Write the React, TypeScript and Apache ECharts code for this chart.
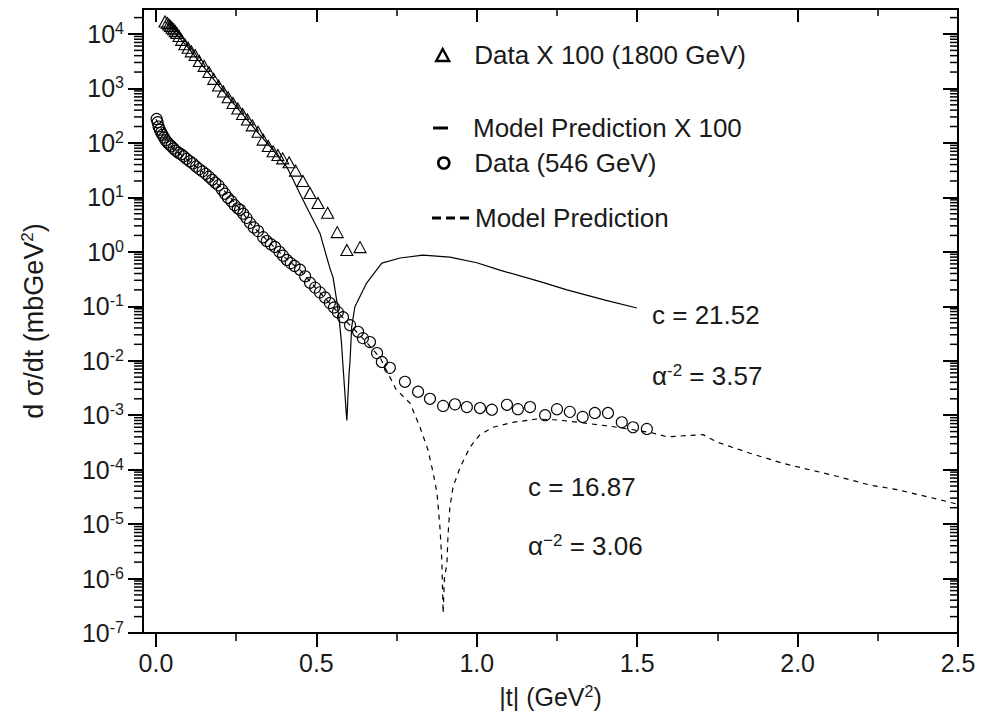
import React, { useEffect, useRef } from 'react';
import * as echarts from 'echarts';

// ---- Data ----
// 1800 GeV data x 100 (triangles)
const triX = [0.028, 0.035, 0.040, 0.045, 0.050, 0.055, 0.060, 0.065, 0.072, 0.080, 0.090, 0.100, 0.110, 0.122, 0.135, 0.150, 0.165, 0.180, 0.195, 0.210, 0.225, 0.240, 0.255, 0.270, 0.285, 0.300, 0.318, 0.334, 0.350, 0.365, 0.380, 0.395, 0.415, 0.435, 0.458, 0.480, 0.505, 0.535, 0.565, 0.595, 0.636];
const triY = [17000, 16000, 15000, 14000, 13000, 12200, 11300, 10400, 9200, 7800, 6500, 5600, 4800, 4100, 3200, 2600, 2000, 1500, 1130, 880, 690, 540, 430, 340, 270, 210, 160, 115, 88, 70, 60, 52, 44, 31, 20, 12, 7.9, 5.2, 2.3, 1.08, 1.22];

// Model prediction x 100 (solid line)
const modelHiX = [0.028, 0.10, 0.20, 0.30, 0.36, 0.408, 0.458, 0.511, 0.542, 0.552, 0.564, 0.572, 0.578, 0.583, 0.588, 0.593, 0.595, 0.598, 0.602, 0.605, 0.610, 0.620, 0.657, 0.704, 0.761, 0.832, 0.916, 1.000, 1.072, 1.200, 1.281, 1.400, 1.499];
const modelHiY = [17000, 5600, 1050, 205, 80, 36, 9, 2.2, 0.5, 0.34, 0.12, 0.05, 0.022, 0.008, 0.003, 0.0011, 0.0008, 0.002, 0.006, 0.0102, 0.042, 0.098, 0.27, 0.62, 0.77, 0.87, 0.80, 0.63, 0.46, 0.28, 0.2, 0.13, 0.093];

// 546 GeV data (circles)
const circX = [0.002, 0.005, 0.008, 0.012, 0.016, 0.020, 0.025, 0.030, 0.036, 0.042, 0.048, 0.055, 0.062, 0.070, 0.078, 0.086, 0.095, 0.105, 0.115, 0.125, 0.135, 0.145, 0.155, 0.165, 0.175, 0.185, 0.195, 0.206, 0.215, 0.224, 0.235, 0.245, 0.255, 0.262, 0.272, 0.282, 0.293, 0.305, 0.318, 0.334, 0.345, 0.358, 0.371, 0.385, 0.396, 0.408, 0.420, 0.432, 0.449, 0.465, 0.480, 0.496, 0.511, 0.527, 0.542, 0.555, 0.567, 0.583, 0.605, 0.630, 0.645, 0.667, 0.689, 0.704, 0.729, 0.776, 0.817, 0.854, 0.895, 0.932, 0.969, 1.010, 1.047, 1.094, 1.128, 1.166, 1.213, 1.250, 1.290, 1.330, 1.368, 1.409, 1.452, 1.487, 1.530];
const circY = [275, 240, 200, 175, 155, 141, 126, 112, 102, 93, 87, 79, 72, 66, 62, 57, 51, 46, 42, 37, 33, 30, 27, 24, 21, 18.6, 16.6, 13.8, 11.7, 9.8, 8.5, 7.2, 6.3, 5.9, 5.0, 4.2, 3.4, 2.8, 2.4, 1.86, 1.58, 1.38, 1.23, 1.0, 0.85, 0.71, 0.62, 0.55, 0.47, 0.355, 0.27, 0.22, 0.18, 0.145, 0.115, 0.095, 0.078, 0.063, 0.045, 0.034, 0.026, 0.022, 0.0138, 0.0095, 0.0074, 0.0041, 0.0027, 0.0020, 0.00148, 0.00158, 0.00141, 0.00135, 0.00126, 0.00155, 0.00129, 0.00141, 0.00100, 0.00129, 0.00115, 0.00093, 0.0011, 0.0011, 0.00074, 0.0006, 0.00056];

// Model prediction (dashed line)
const modelLoX = [0.0, 0.05, 0.1, 0.15, 0.2, 0.25, 0.3, 0.35, 0.4, 0.45, 0.5, 0.55, 0.6, 0.65, 0.7, 0.748, 0.792, 0.823, 0.848, 0.864, 0.876, 0.885, 0.891, 0.895, 0.899, 0.907, 0.910, 0.916, 0.926, 0.948, 0.979, 1.010, 1.050, 1.113, 1.188, 1.260, 1.350, 1.420, 1.487, 1.549, 1.593, 1.650, 1.705, 1.749, 1.852, 1.955, 2.110, 2.226, 2.310, 2.466, 2.500];
const modelLoY = [270, 82, 48, 28, 16, 7.5, 3.0, 1.55, 0.80, 0.46, 0.21, 0.10, 0.048, 0.024, 0.011, 0.003, 0.00166, 0.0006, 0.00023, 0.000087, 0.000037, 0.0000089, 0.0000022, 0.00000023, 0.000001, 0.0000019, 0.0000058, 0.00002, 0.000048, 0.00011, 0.00026, 0.00044, 0.0006, 0.00074, 0.00085, 0.00081, 0.0007, 0.00062, 0.00054, 0.00047, 0.0004, 0.00042, 0.00044, 0.00032, 0.0002, 0.00013, 0.000079, 0.000052, 0.000043, 0.000026, 0.000023];

// Axis ticks
const yExponents = [-7, -6, -5, -4, -3, -2, -1, 0, 1, 2, 3, 4];
const xMajorTicks = [0, 0.5, 1.0, 1.5, 2.0, 2.5];
const xMinorTicks = [0.25, 0.75, 1.25, 1.75, 2.25];

const seriesNames = ['Data X 100 (1800 GeV)', 'Model Prediction X 100', 'Data (546 GeV)', 'Model Prediction'];

const FONT = "'Liberation Sans', Arial, Helvetica, sans-serif";
const TXT = '#1a1a1a';

const toLog = (xs: number[], ys: number[]) => xs.map((x, i) => [x, Math.log10(ys[i])]);

const supStyle = (base: number, sup: number, key: 'color' | 'fill') => ({
  a: { fontSize: base, fontFamily: FONT, [key]: TXT, lineHeight: base + 2 },
  b: { fontSize: base, fontFamily: FONT, [key]: TXT, lineHeight: base + 2 },
  s: { fontSize: sup, fontFamily: FONT, [key]: TXT, verticalAlign: 'top', lineHeight: sup - 1 },
});

export default function App() {
  const ref = useRef<HTMLDivElement>(null);
  useEffect(() => {
    if (!ref.current) return;
    const chart = echarts.init(ref.current, undefined, { renderer: 'svg' });

    const X_MIN = -0.0405;
    const X_MAX = 2.5;
    const Y_MIN = -7;
    const Y_MAX = 4.459;

    // log-minor tick positions (2..9 x 10^n) — axis decoration only
    const minorLogs: number[][] = [];
    for (let n = -7; n <= 4; n++) {
      for (let k = 2; k <= 9; k++) {
        const v = n + Math.log10(k);
        if (v < Y_MAX) minorLogs.push([0, v]);
      }
    }

    const xBase = {
      type: 'value', min: X_MIN, max: X_MAX, gridIndex: 0,
      splitLine: { show: false },
    };

    const legendText = (padLeft: number) => ({ fontSize: 26, fontFamily: FONT, color: TXT, padding: [0, 0, 0, padLeft] });

    const option: any = {
      animation: false,
      grid: { left: 143, right: 26, top: 9, bottom: 90, containLabel: false },
      xAxis: [
        {
          ...xBase, position: 'bottom',
          axisLine: { show: true, onZero: false, lineStyle: { color: '#000', width: 2 } },
          axisTick: { show: true, inside: false, length: 14, customValues: xMajorTicks, lineStyle: { color: '#000', width: 2 } },
          axisLabel: { show: true, customValues: xMajorTicks, formatter: (v: number) => v.toFixed(1), fontSize: 25, fontFamily: FONT, color: TXT, margin: 17 },
          name: '{a||t| (GeV}{s|2}{a|)}',
          nameLocation: 'middle', nameGap: 50,
          nameTextStyle: { rich: supStyle(25, 16, 'color') },
        },
        {
          ...xBase, position: 'bottom',
          axisLine: { show: false, onZero: false },
          axisTick: { show: true, inside: false, length: 8, customValues: xMinorTicks, lineStyle: { color: '#000', width: 1.5 } },
          axisLabel: { show: false },
        },
        {
          ...xBase, position: 'top',
          axisLine: { show: true, onZero: false, lineStyle: { color: '#000', width: 2 } },
          axisTick: { show: true, inside: true, length: 13, customValues: xMajorTicks, lineStyle: { color: '#000', width: 2 } },
          axisLabel: { show: false },
        },
        {
          ...xBase, position: 'top',
          axisLine: { show: false, onZero: false },
          axisTick: { show: true, inside: true, length: 7, customValues: xMinorTicks, lineStyle: { color: '#000', width: 1.5 } },
          axisLabel: { show: false },
        },
      ],
      yAxis: [
        {
          type: 'value', min: Y_MIN, max: Y_MAX, interval: 1, position: 'left',
          splitLine: { show: false },
          axisLine: { show: true, onZero: false, lineStyle: { color: '#000', width: 2 } },
          axisTick: { show: true, inside: false, length: 15, customValues: yExponents, lineStyle: { color: '#000', width: 2 } },
          axisLabel: {
            show: true, customValues: yExponents, margin: 19,
            formatter: (v: number) => `{b|10}{s|${Math.round(v)}}`,
            rich: supStyle(25, 16, 'color'),
          },
          name: '{a|d σ/dt (mbGeV}{s|2}{a|)}',
          nameLocation: 'middle', nameGap: 95,
          nameTextStyle: { rich: supStyle(27, 17, 'color') },
        },
        {
          type: 'value', min: Y_MIN, max: Y_MAX, interval: 1, position: 'right',
          splitLine: { show: false },
          axisLine: { show: true, onZero: false, lineStyle: { color: '#000', width: 2 } },
          axisTick: { show: true, inside: true, length: 15, customValues: yExponents, lineStyle: { color: '#000', width: 2 } },
          axisLabel: { show: false },
        },
      ],
      legend: [
        {
          data: [{ name: seriesNames[0], icon: 'triangle', itemStyle: { color: 'rgba(255,255,255,0)', borderColor: '#000', borderWidth: 2.4 } }],
          left: 435, top: 42, padding: 0, itemWidth: 13, itemHeight: 12, selectedMode: false,
          textStyle: legendText(20),
        },
        {
          data: [{ name: seriesNames[1], icon: 'rect', itemStyle: { color: '#000', borderWidth: 0 } }],
          left: 433, top: 115, padding: 0, itemWidth: 15, itemHeight: 3, selectedMode: false,
          textStyle: legendText(20),
        },
        {
          data: [{ name: seriesNames[2], icon: 'circle', itemStyle: { color: 'rgba(255,255,255,0)', borderColor: '#000', borderWidth: 2.6 } }],
          left: 437, top: 150, padding: 0, itemWidth: 11, itemHeight: 13, symbolKeepAspect: false, selectedMode: false,
          textStyle: legendText(20),
        },
        {
          data: [{ name: seriesNames[3], icon: 'path://M0,0h9v3h-9zM14,0h9v3h-9zM28,0h9v3h-9z', itemStyle: { color: '#000', borderWidth: 0 } }],
          left: 432, top: 205, padding: 0, itemWidth: 37, itemHeight: 3, selectedMode: false,
          textStyle: legendText(1),
        },
      ],
      graphic: [
        {
          type: 'text', left: 652, top: 302, silent: true,
          style: { text: 'c = 21.52', fontSize: 26, fontFamily: FONT, fill: TXT },
        },
        {
          type: 'text', left: 652, top: 362, silent: true,
          style: { text: '{a|α}{s|-2}{a| = 3.57}', rich: supStyle(26, 17, 'fill') },
        },
        {
          type: 'text', left: 528, top: 474, silent: true,
          style: { text: 'c = 16.87', fontSize: 26, fontFamily: FONT, fill: TXT },
        },
        {
          type: 'text', left: 528, top: 532, silent: true,
          style: { text: '{a|α}{s|−2}{a| = 3.06}', rich: supStyle(26, 17, 'fill') },
        },
      ],
      series: [
        {
          name: seriesNames[1], type: 'line', xAxisIndex: 0, yAxisIndex: 0,
          data: toLog(modelHiX, modelHiY), symbol: 'none', smooth: false,
          lineStyle: { color: '#000', width: 1.2, type: 'solid' }, itemStyle: { color: '#000' }, z: 2,
        },
        {
          name: seriesNames[3], type: 'line', xAxisIndex: 0, yAxisIndex: 0,
          data: toLog(modelLoX, modelLoY), symbol: 'none', smooth: false,
          lineStyle: { color: '#000', width: 1.2, type: [5, 5] }, itemStyle: { color: '#000' }, z: 2,
        },
        {
          name: seriesNames[0], type: 'scatter', xAxisIndex: 0, yAxisIndex: 0,
          data: toLog(triX, triY), symbol: 'triangle', symbolSize: [12, 11],
          itemStyle: { color: 'rgba(255,255,255,0)', borderColor: '#000', borderWidth: 1.1, opacity: 1 }, z: 3,
        },
        {
          name: seriesNames[2], type: 'scatter', xAxisIndex: 0, yAxisIndex: 0,
          data: toLog(circX, circY), symbol: 'circle', symbolSize: 11,
          itemStyle: { color: 'rgba(255,255,255,0)', borderColor: '#000', borderWidth: 1.1, opacity: 1 }, z: 3,
        },
        {
          type: 'custom', name: 'minorTicks', xAxisIndex: 0, yAxisIndex: 0, coordinateSystem: 'cartesian2d',
          silent: true, clip: false, z: 5,
          data: minorLogs,
          renderItem: (params: any, api: any) => {
            const y = api.coord([0, api.value(1)])[1];
            const cs = params.coordSys;
            return {
              type: 'group',
              children: [
                { type: 'line', shape: { x1: cs.x - 9, y1: y, x2: cs.x, y2: y }, style: { stroke: '#000', lineWidth: 1.5 } },
                { type: 'line', shape: { x1: cs.x + cs.width - 8, y1: y, x2: cs.x + cs.width, y2: y }, style: { stroke: '#000', lineWidth: 1.5 } },
              ],
            };
          },
        },
      ],
    };

    chart.setOption(option);
    return () => chart.dispose();
  }, []);

  return <div ref={ref} style={{ position: 'absolute', left: 0, top: 0, width: 984, height: 723, background: '#fff' }} />;
}
